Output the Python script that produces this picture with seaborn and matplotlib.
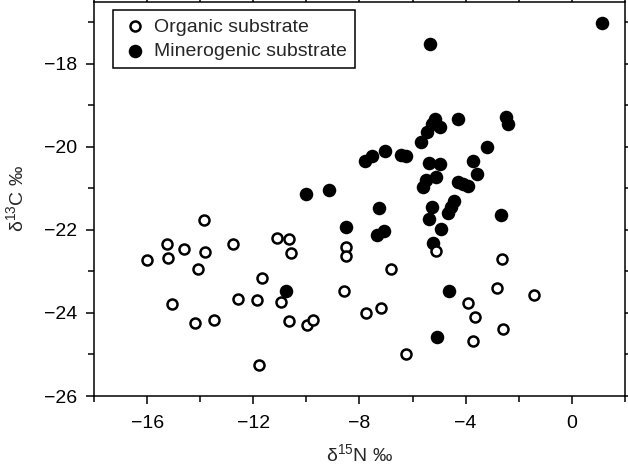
import numpy as np
import pandas as pd
import seaborn as sns
import matplotlib.pyplot as plt
from matplotlib.ticker import MultipleLocator

# organic substrate (open circles)
org_n = [-13.85, -15.26, -14.6, -13.82, -15.99, -15.2, -14.07, -12.77, -11.12, -10.66,
         -10.57, -11.67, -15.06, -14.2, -13.48, -12.57, -11.86, -10.96, -10.67, -9.97,
         -9.75, -11.8, -8.59, -8.52, -8.52, -6.8, -7.74, -7.18, -6.26, -5.11,
         -3.92, -3.64, -3.73, -2.64, -2.83, -2.58, -1.41]
org_c = [-21.77, -22.33, -22.47, -22.53, -22.73, -22.67, -22.95, -22.33, -22.19, -22.23,
         -22.55, -23.15, -23.79, -24.23, -24.16, -23.67, -23.68, -23.74, -24.19, -24.3,
         -24.17, -25.25, -23.47, -22.41, -22.62, -22.95, -24.01, -23.87, -24.99, -22.51,
         -23.75, -24.09, -24.68, -22.71, -23.39, -24.39, -23.57]

# minerogenic substrate (filled circles)
min_n = [-5.36, 1.15, -5.17, -5.26, -4.98, -5.45, -5.67, -4.27, -2.48, -2.39,
         -3.19, -10.02, -9.16, -7.8, -7.53, -7.05, -6.42, -6.24, -5.39, -4.98,
         -5.11, -5.48, -5.61, -3.73, -3.57, -4.3, -4.1, -3.92, -7.27, -8.49,
         -7.08, -7.34, -5.26, -5.39, -4.92, -5.21, -4.42, -4.55, -4.67, -2.67,
         -10.75, -4.64, -5.09]
min_c = [-17.52, -17.02, -19.32, -19.44, -19.53, -19.65, -19.89, -19.32, -19.29, -19.44,
         -20.0, -21.13, -21.05, -20.34, -20.23, -20.1, -20.2, -20.23, -20.39, -20.42,
         -20.73, -20.81, -20.97, -20.35, -20.66, -20.85, -20.9, -20.95, -21.47, -21.93,
         -22.03, -22.13, -21.46, -21.73, -21.99, -22.32, -21.31, -21.45, -21.59, -21.63,
         -23.47, -23.47, -24.57]

org = pd.DataFrame({'n15': org_n, 'c13': org_c})
mine = pd.DataFrame({'n15': min_n, 'c13': min_c})

sns.set_style('ticks')
plt.rcParams['font.family'] = ['Liberation Sans', 'DejaVu Sans']
plt.rcParams['mathtext.default'] = 'regular'
plt.rcParams['font.size'] = 14

fig = plt.figure(figsize=(6.28, 4.75), dpi=100)
ax = fig.add_axes([0.1497, 0.1663, 0.8453, 0.8305])

sns.scatterplot(data=mine, x='n15', y='c13', ax=ax, color='black', edgecolor='black',
                s=95, linewidth=0, label='Minerogenic substrate', zorder=3)
sns.scatterplot(data=org, x='n15', y='c13', ax=ax, color='white', edgecolor='black',
                s=52, linewidth=1.8, label='Organic substrate', zorder=4)

ax.set_xlim(-18, 2)
ax.set_ylim(-26, -16.5)
ax.xaxis.set_major_locator(MultipleLocator(4))
ax.xaxis.set_minor_locator(MultipleLocator(2))
ax.yaxis.set_major_locator(MultipleLocator(2))
ax.yaxis.set_minor_locator(MultipleLocator(1))
ax.tick_params(which='both', direction='out', top=True, right=True, width=1.1,
               colors='black', labelsize=14)
ax.tick_params(which='major', length=6)
ax.tick_params(which='minor', length=4)
ax.tick_params(axis='x', which='major', pad=8)
ax.tick_params(axis='y', which='major', pad=6)
for sp in ax.spines.values():
    sp.set_visible(True)
    sp.set_linewidth(1.1)
    sp.set_color('black')

ax.set_xlabel('δ$^{15}$N ‰', fontsize=14, labelpad=8)
ax.set_ylabel('δ$^{13}$C ‰', fontsize=14, labelpad=12)

h, l = ax.get_legend_handles_labels()
leg = ax.legend([h[1], h[0]], [l[1], l[0]], loc='upper left', bbox_to_anchor=(0.036, 0.978),
                borderaxespad=0, fontsize=14, frameon=True, fancybox=False,
                handlelength=1.4, handletextpad=0.3, labelspacing=0.35, borderpad=0.4)
leg.get_frame().set_edgecolor('black')
leg.get_frame().set_linewidth(1.1)
leg.get_frame().set_alpha(1)

fig.savefig('out.png', dpi=100)
